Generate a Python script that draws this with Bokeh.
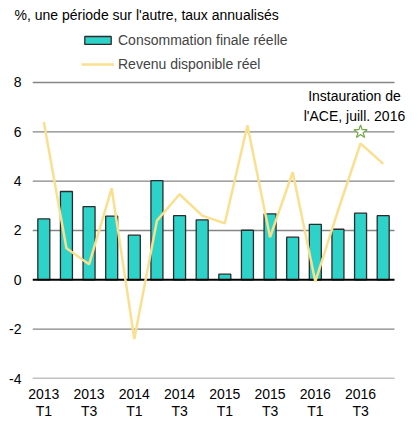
from bokeh.plotting import figure
from bokeh.models import Legend, LegendItem, Label, FixedTicker
from bokeh.embed import file_html
from bokeh.resources import INLINE

years = ["2013", "2013", "2013", "2013", "2014", "2014", "2014", "2014",
         "2015", "2015", "2015", "2015", "2016", "2016", "2016", "2016"]
quarters = ["T1", "T2", "T3", "T4"] * 4
consommation = [2.47, 3.58, 2.97, 2.58, 1.81, 4.02, 2.60, 2.43,
                0.23, 2.01, 2.67, 1.73, 2.25, 2.05, 2.70, 2.60]
revenu = [6.40, 1.28, 0.63, 3.71, -2.40, 2.40, 3.47, 2.60,
          2.29, 6.27, 1.73, 4.36, -0.07, 2.80, 5.53, 4.70]
star_index = 14
star_value = 6.0
y_ticks = [-4, -2, 0, 2, 4, 6, 8]

xs = list(range(len(quarters)))
FONT = "Liberation Sans"
FS = "14px"

p = figure(frame_width=378, frame_height=353, output_backend="svg", toolbar_location=None,
           x_range=(-0.5, 16.207), y_range=(-4, 10.31),
           min_border_left=32, min_border_right=0, min_border_top=25,
           min_border_bottom=0)
p.outline_line_color = None
p.background_fill_color = "white"
p.xgrid.grid_line_color = None
p.ygrid.grid_line_color = None

p.title.text = "%, une période sur l'autre, taux annualisés"
p.title.text_font = FONT
p.title.text_font_size = FS
p.title.text_font_style = "normal"
p.title.text_color = "black"
p.title.align = "left"
p.title.offset = -18
p.title.standoff = 5

p.yaxis.ticker = FixedTicker(ticks=y_ticks)
p.yaxis.major_label_overrides = {t: str(t) for t in y_ticks}
p.yaxis.axis_line_color = None
p.yaxis.major_tick_line_color = None
p.yaxis.minor_tick_line_color = None
p.yaxis.major_tick_out = 0
p.yaxis.major_tick_in = 0
p.yaxis.major_label_text_font = FONT
p.yaxis.major_label_text_font_size = FS
p.yaxis.major_label_text_color = "black"
p.yaxis.major_label_standoff = 11

tick_pos = [i for i in xs if i % 2 == 0]
p.xaxis.ticker = FixedTicker(ticks=tick_pos)
p.xaxis.major_label_overrides = {i: f"{years[i]}\n{quarters[i]}" for i in tick_pos}
p.xaxis.axis_line_color = None
p.xaxis.major_tick_line_color = None
p.xaxis.minor_tick_line_color = None
p.xaxis.major_tick_out = 0
p.xaxis.major_tick_in = 0
p.xaxis.major_label_text_font = FONT
p.xaxis.major_label_text_font_size = FS
p.xaxis.major_label_text_color = "black"
p.xaxis.major_label_text_line_height = 1.1
p.xaxis.major_label_standoff = 7

grid_vals = [t for t in y_ticks if t != 0]
p.segment(x0=[-0.5] * len(grid_vals), x1=[len(xs) - 0.5] * len(grid_vals),
          y0=grid_vals, y1=grid_vals, line_color="#858585", line_width=1.3)

bars = p.vbar(x=xs, top=consommation, bottom=0, width=0.53,
              fill_color="#2DD2C8", line_color="#2b2b2b", line_width=1.3)
p.segment(x0=[-0.5], x1=[len(xs) - 0.5], y0=[0], y1=[0],
          line_color="black", line_width=2)
line = p.line(xs, revenu, line_color="#FAE08E", line_width=2.5)
p.scatter([star_index], [star_value], marker="star", size=14,
          fill_color="white", line_color="#78A94B", line_width=1.2)

p.add_layout(Label(x=13.73, y=7.05, text="Instauration de\nl'ACE, juill. 2016",
                   text_font=FONT, text_font_size=FS, text_align="center",
                   text_baseline="middle", text_color="black"))

legend = Legend(items=[LegendItem(label="Consommation finale réelle", renderers=[bars]),
                       LegendItem(label="Revenu disponible réel", renderers=[line])],
                location=(49, 306), orientation="vertical",
                glyph_width=33, glyph_height=10, label_height=14, spacing=8,
                padding=0, margin=0, label_standoff=4,
                label_text_font=FONT, label_text_font_size=FS,
                border_line_color=None, background_fill_alpha=0)
p.add_layout(legend)

open("out.html", "w").write(file_html(p, INLINE))
